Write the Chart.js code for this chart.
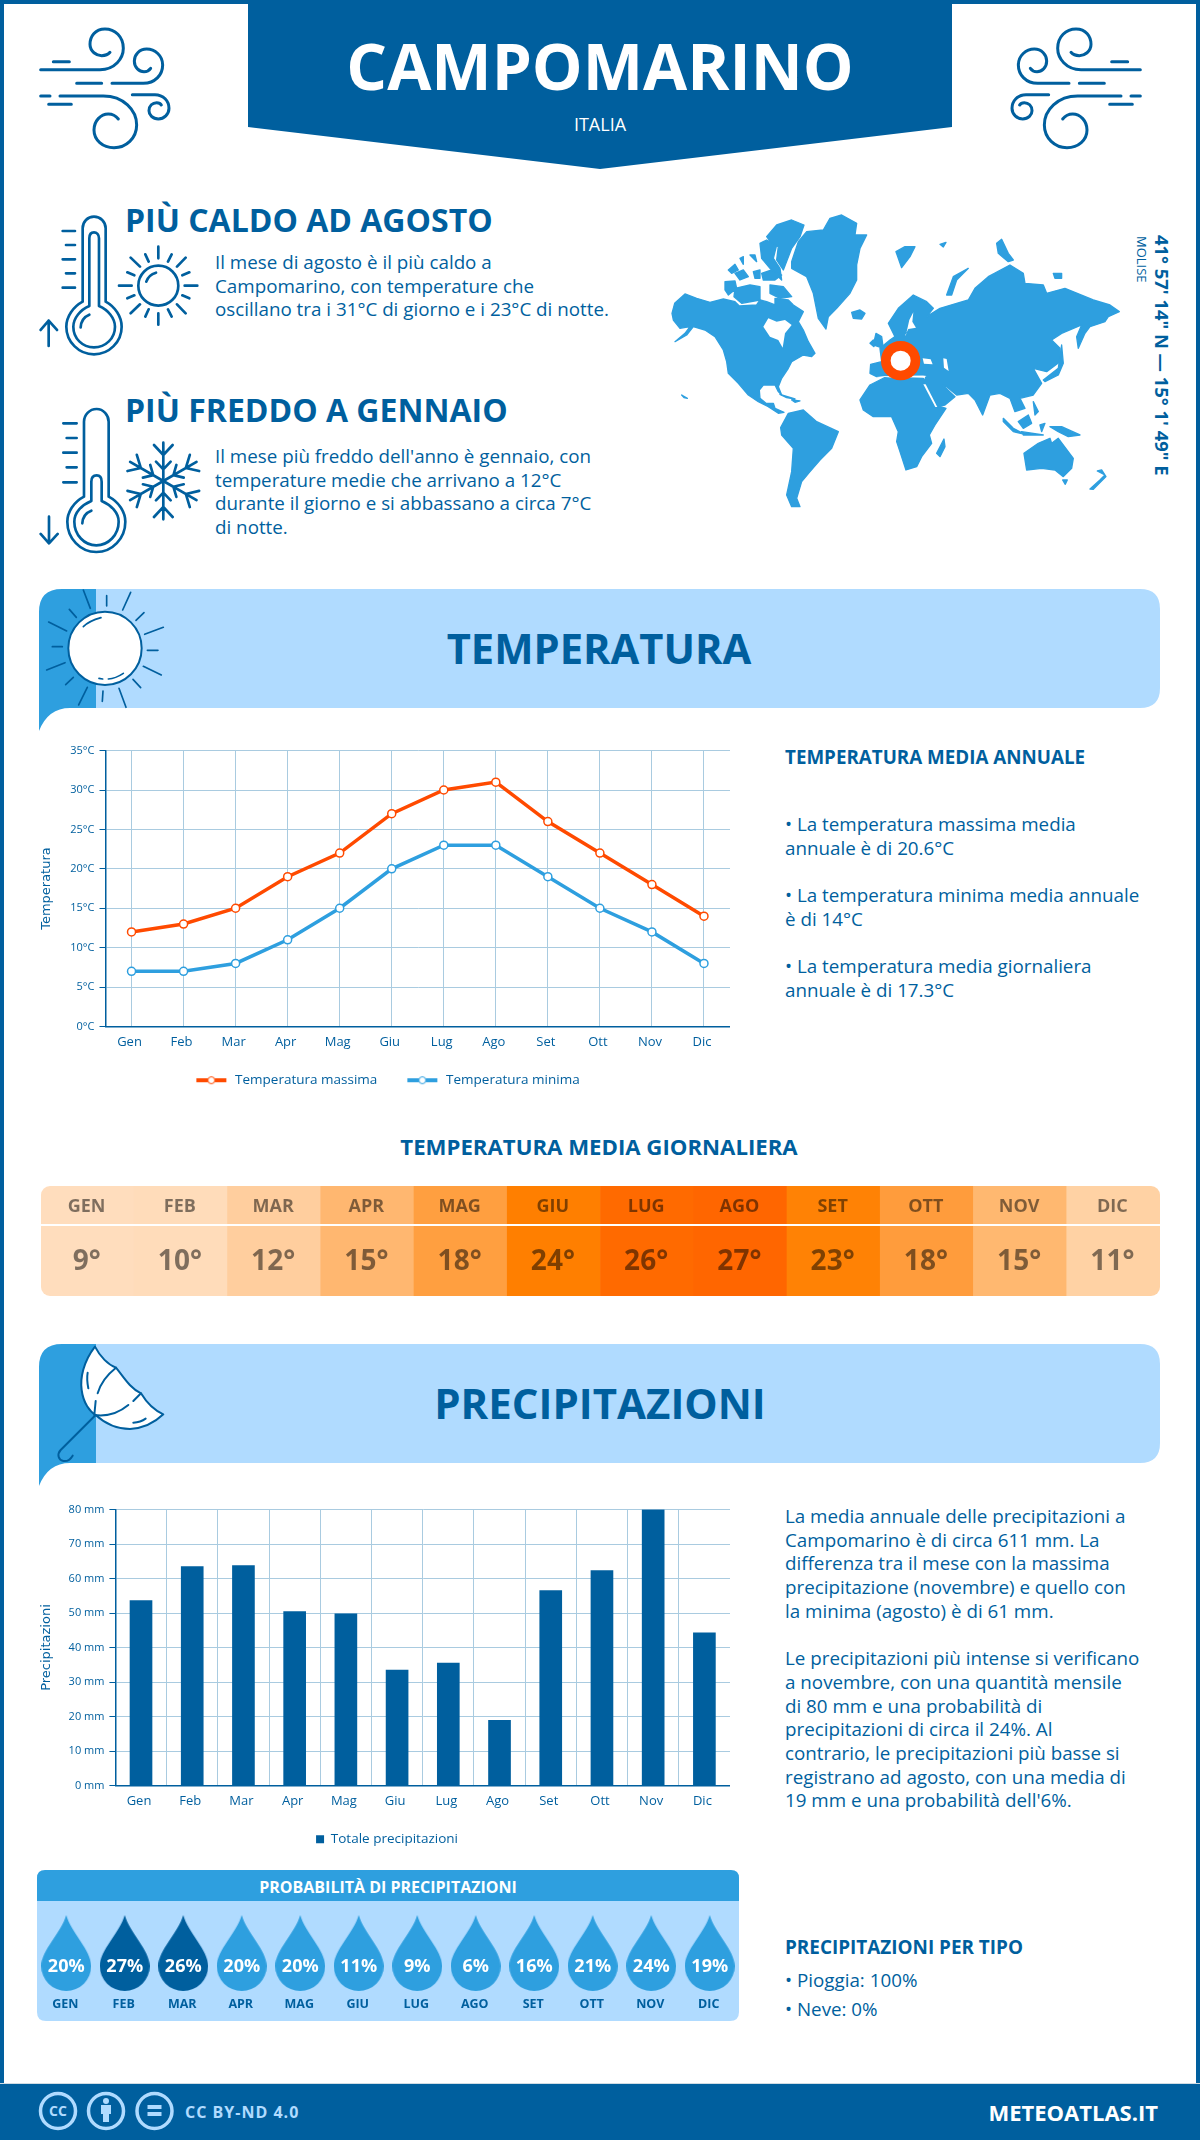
<!DOCTYPE html>
<html lang="it">
<head>
<meta charset="utf-8">
<title>Campomarino</title>
<script src="https://cdn.jsdelivr.net/npm/chart.js@4/dist/chart.umd.js"></script>
<style>
html, body { margin: 0; padding: 0; background: #fff; }
#pagina { position: relative; width: 1200px; height: 2140px; overflow: hidden; background: #fff; font-family: "Open Sans", sans-serif; color: #005f9e; }
#cornice { position: absolute; left: 0; top: 0; width: 1192px; height: 2136px; border: 4px solid #005f9e; border-bottom: 0; }
#disegni { position: absolute; left: 0; top: 0; }
.t { position: absolute; white-space: nowrap; }
.b { font-weight: 700; }
.c { left: 0; width: 1200px; text-align: center; }
.p { font-size: 18.8px; line-height: 23.7px; }
canvas { position: absolute; }
#footer { position: absolute; left: 0; top: 2083px; width: 1200px; height: 57px; background: #005f9e; border-top: 1px solid #cfdbe3; box-sizing: border-box; }
</style>
</head>
<body>
<div id="pagina">
<div id="cornice"></div>
<div id="footer"></div>

<svg id="disegni" width="1200" height="2140" xmlns="http://www.w3.org/2000/svg">
  <defs>
    <g id="vento" fill="none" stroke="#005f9e" stroke-width="9" stroke-linecap="round" transform="translate(20,15) scale(.3333)">
      <path d="M62,164 H240 C285,164 310,130 310,100 C310,65 285,42 255,42 C225,42 210,65 210,88 C210,110 230,122 245,122 C255,122 265,118 270,112"/>
      <path d="M100,140 H148 M170,205 H245 M62,243 H90 M86,268 H154"/>
      <path d="M276,205 H370 C405,205 428,180 428,150 C428,122 405,102 380,102 C358,102 343,120 343,138 C343,158 358,170 372,170 C380,170 388,166 392,160"/>
      <path d="M120,243 H250 C310,243 350,285 350,330 C350,370 318,398 282,398 C248,398 222,375 222,345 C222,318 242,297 265,297 C278,297 288,303 295,312"/>
      <path d="M337,239 H405 C430,239 447,258 447,280 C447,298 432,312 415,312 C398,312 387,300 387,287 C387,272 398,263 410,263 C417,263 422,266 424,270"/>
    </g>
    <g id="ramo">
      <path d="M430,843 V728 M402,735 L430,765 L458,735 M408,785 L430,808 L452,785"/>
    </g>
  </defs>

  <!-- testata -->
  <path d="M248,0 H952 V127 L600,169 L248,127 Z" fill="#005f9e"/>
  <use href="#vento"/>
  <use href="#vento" transform="matrix(-1,0,0,1,1181,0)"/>

  <!-- termometri e icone -->
  <g fill="none" stroke="#005f9e" stroke-width="8" stroke-linecap="round" stroke-linejoin="round" transform="translate(20,200) scale(.3333)">
    <path d="M188,305 V85 C188,65 203,50 222,50 C241,50 257,65 257,85 V305 C285,320 305,350 305,380 C305,425 268,463 222,463 C176,463 139,425 139,380 C139,350 160,320 188,305 Z"/>
    <path d="M208,318 V115 C208,103 214,97 222,97 C230,97 237,103 237,115 V318 C265,330 285,355 285,380 C285,415 257,442 222,442 C187,442 160,415 160,380 C160,355 180,330 208,318 Z"/>
    <path d="M182,382 C183,365 193,350 208,344 M128,93 H165 M138,135 H165 M128,178 H165 M138,220 H165 M128,263 H165 M86,438 V362 M62,390 L86,362 L111,390"/>
    <circle cx="415" cy="257" r="60"/>
    <path d="M379,245 C383,232 395,222 408,218 M415,140 V175 M415,340 V374 M297,257 H335 M494,257 H532 M332,173 L360,200 M497,173 L471,200 M332,340 L360,313 M497,340 L471,313 M376,163 L386,185 M455,163 L444,185 M322,217 L343,226 M508,217 L487,226 M322,295 L343,286 M508,295 L487,286 M376,350 L386,328 M455,350 L444,328"/>
    <path d="M192,890 V665 C192,645 208,627 230,627 C250,627 266,645 266,665 V890 C295,905 316,935 316,965 C316,1015 277,1056 229,1056 C181,1056 142,1015 142,965 C142,935 163,905 192,890 Z"/>
    <path d="M214,903 V845 C214,832 220,826 230,826 C240,826 245,832 245,845 V903 C273,915 296,938 296,965 C296,1005 265,1036 229,1036 C193,1036 163,1005 163,965 C163,938 185,915 214,903 Z"/>
    <path d="M187,970 C188,952 198,938 214,932 M130,670 H170 M140,714 H170 M130,758 H170 M140,802 H170 M130,847 H170 M87,950 V1030 M62,1002 L87,1030 L113,1002"/>
    <use href="#ramo"/>
    <use href="#ramo" transform="rotate(60 430 843)"/>
    <use href="#ramo" transform="rotate(120 430 843)"/>
    <use href="#ramo" transform="rotate(180 430 843)"/>
    <use href="#ramo" transform="rotate(240 430 843)"/>
    <use href="#ramo" transform="rotate(300 430 843)"/>
  </g>

  <!-- mappa -->
  <g transform="translate(660,205) scale(.3333)">
    <g fill="#2e9fdf" stroke="#2e9fdf" stroke-width="4" stroke-linejoin="round">
      <path d="M36,325 L44,295 L75,267 L110,280 L150,292 L190,282 L225,290 L238,303 L290,300 L300,285 L320,290 L345,300 L345,280 L385,285 L400,300 L430,320 L415,350 L430,375 L445,410 L465,445 L455,455 L430,450 L395,470 L385,490 L365,520 L355,545 L365,570 L355,560 L345,540 L310,540 L298,555 L300,580 L318,595 L340,595 L345,610 L372,622 L355,625 L325,605 L295,590 L265,570 L235,535 L205,505 L200,470 L190,435 L165,395 L135,375 L100,365 L80,390 L45,410 L75,385 L90,365 L60,370 L40,345 Z"/>
      <path d="M320,95 L350,60 L395,45 L432,60 L420,95 L395,130 L370,195 L350,165 L355,125 L335,115 Z"/>
      <path d="M300,115 L320,105 L350,120 L340,160 L360,190 L365,225 L330,190 L305,160 Z"/>
      <path d="M205,195 L225,178 L235,195 L215,205 Z M225,205 L250,195 L265,215 L240,225 Z M280,200 L300,195 L300,220 L285,220 Z M305,205 L335,195 L365,210 L345,225 L310,225 Z M195,230 L225,228 L230,250 L205,270 L195,255 Z M225,250 L270,240 L300,245 L300,285 L245,295 L222,275 Z M330,240 L370,245 L395,275 L360,280 L330,265 Z M240,160 L250,155 L250,178 Z M270,150 L285,150 L290,170 Z"/>
      <path d="M395,170 L415,110 L440,80 L490,75 L510,40 L545,30 L590,55 L585,90 L620,90 L600,130 L590,180 L590,225 L570,265 L530,310 L505,335 L498,372 L475,340 L460,265 L440,215 L395,190 Z"/>
      <path d="M575,322 L600,315 L615,325 L605,342 L580,340 Z"/>
      <path d="M362,668 L385,625 L430,615 L470,650 L535,680 L515,730 L480,765 L450,800 L425,830 L410,880 L420,905 L395,905 L380,870 L395,800 L400,730 L365,690 Z"/>
      <path d="M600,585 L630,540 L680,515 L790,520 L825,600 L858,610 L825,660 L808,690 L815,715 L785,755 L770,785 L738,795 L720,740 L710,710 L715,680 L695,635 L640,635 L610,615 Z"/>
      <path d="M830,745 L852,702 L855,725 L840,755 Z"/>
      <path d="M630,505 L632,478 L665,470 L660,430 L690,405 L705,395 L685,355 L715,310 L760,270 L800,290 L820,310 L800,335 L840,310 L890,295 L925,285 L945,250 L985,215 L1050,180 L1090,205 L1095,235 L1150,240 L1160,265 L1215,250 L1300,285 L1350,300 L1378,320 L1345,335 L1335,350 L1290,365 L1275,385 L1255,430 L1250,395 L1265,360 L1205,385 L1175,405 L1200,430 L1200,470 L1160,500 L1120,490 L1145,535 L1120,570 L1080,580 L1095,610 L1065,620 L1050,580 L1020,565 L990,570 L968,630 L945,585 L925,565 L890,570 L860,545 L848,540 L885,575 L855,600 L830,605 L790,535 L800,510 L765,510 L700,510 L650,515 Z"/>
      <path d="M640,420 L648,385 L665,395 L670,430 Z M630,415 L640,405 L642,425 Z"/>
      <path d="M860,270 L880,215 L925,190 L890,225 L875,270 Z"/>
      <path d="M708,140 L735,125 L765,125 L750,155 L725,188 Z M840,118 L858,112 L850,126 Z"/>
      <path d="M1180,205 L1205,205 L1205,220 L1185,220 Z M1010,115 L1025,103 L1045,145 L1060,165 L1045,170 L1015,145 Z"/>
      <path d="M1150,525 L1195,490 L1205,420 L1210,475 L1195,510 L1155,530 Z"/>
      <path d="M1075,650 L1105,630 L1115,655 L1090,670 Z M1030,640 L1060,670 L1095,688 L1060,680 L1030,650 Z M1120,590 L1135,620 L1125,630 Z M1170,665 L1205,665 L1260,690 L1225,695 L1195,680 Z M1140,660 L1155,655 L1145,680 Z M1085,680 L1150,690 L1090,690 Z"/>
      <path d="M1092,745 L1135,715 L1170,700 L1175,715 L1195,700 L1240,760 L1235,790 L1210,815 L1185,795 L1145,790 L1100,795 Z M1208,825 L1222,825 L1216,838 Z"/>
      <path d="M1290,852 L1320,825 L1335,810 L1312,798 L1325,795 L1338,815 L1300,853 Z"/>
      <path d="M360,568 L405,582 L380,578 Z M395,585 L420,588 L405,592 Z M65,570 L82,580 L72,578 Z"/>
    </g>
    <g fill="#fff">
      <path d="M310,365 L325,340 L350,350 L375,345 L395,360 L375,385 L368,428 L355,405 L330,395 Z"/>
      <path d="M738,390 L748,345 L760,322 L757,350 L768,368 L745,372 L735,392 Z"/>
      <path d="M788,460 L812,463 L818,478 L792,476 Z M850,460 L860,462 L866,498 L852,488 Z"/>
      <path d="M650,514 L790,512 L800,516 L700,518 Z"/>
      <path d="M790,538 L797,538 L832,606 L826,606 Z"/>
    </g>
    <circle cx="722" cy="467" r="44.5" fill="#fff" stroke="#ff4a00" stroke-width="29"/>
  </g>

  <!-- bande di sezione -->
  <path d="M96,589 H1140 Q1160,589 1160,609 V688 Q1160,708 1140,708 H96 Z" fill="#b0dbff"/>
  <path d="M39,731 V612 Q39,589 62,589 H96 V708 H70 Q48,708 39,731 Z" fill="#2e9fdf"/>
  <g fill="#fff" stroke="#005f9e" stroke-width="5" stroke-linecap="round" transform="translate(30,580) scale(.3333)">
    <path fill="none" d="M160,30 L181,85 M302,37 L278,90 M230,47 V78 M342,98 L318,121 M118,88 L139,112 M56,126 L110,153 M400,142 L344,163 M67,200 H97 M352,211 H384 M50,270 L105,248 M394,285 L340,259 M130,292 L107,314 M309,298 L332,323 M172,322 L146,375 M267,325 L288,382 M219,333 L217,364"/>
    <circle cx="225" cy="205" r="110" stroke-width="6"/>
    <path fill="none" d="M160,140 C175,125 195,118 213,113 M235,297 C250,296 265,290 280,280 M207,295 L218,297"/>
  </g>
  <path d="M96,1344 H1140 Q1160,1344 1160,1364 V1443 Q1160,1463 1140,1463 H96 Z" fill="#b0dbff"/>
  <path d="M39,1486 V1367 Q39,1344 62,1344 H96 V1463 H70 Q48,1463 39,1486 Z" fill="#2e9fdf"/>
  <g fill="none" stroke="#005f9e" stroke-width="6" stroke-linecap="round" stroke-linejoin="round" transform="translate(30,1335) scale(.3333)">
    <path fill="#fff" d="M195,35 C160,80 150,130 155,165 C160,205 180,230 197,240 C230,270 265,282 300,282 C340,280 375,262 400,238 C370,225 345,195 333,175 C300,160 280,125 258,98 C235,90 210,65 195,35 Z"/>
    <path d="M197,240 L92,345 C80,358 85,375 100,378 C112,380 122,372 128,362"/>
    <path d="M258,98 C230,120 210,150 203,175 M197,198 L193,240 M193,240 C230,245 265,235 295,210 M310,198 L333,175 M173,113 C170,130 172,145 175,160 M310,263 C325,262 337,258 347,251"/>
  </g>

  <!-- riquadro probabilita -->
  <path d="M37,1901 V1878 Q37,1870 45,1870 H731 Q739,1870 739,1878 V1901 Z" fill="#2e9fdf"/>
  <path d="M37,1901 H739 V2012 Q739,2021 730,2021 H46 Q37,2021 37,2012 Z" fill="#b0dbff"/>

  <!-- licenza -->
  <g fill="none" stroke="#b0dbff" stroke-width="3.5">
    <circle cx="58" cy="2111" r="17.5"/>
    <circle cx="106" cy="2111" r="17.5"/>
    <circle cx="154.5" cy="2111" r="17.5"/>
  </g>
  <g fill="#b0dbff">
    <text x="58" y="2116" text-anchor="middle" font-family="Open Sans" font-weight="700" font-size="14">CC</text>
    <circle cx="106" cy="2101" r="3"/>
    <rect x="101" y="2105" width="10" height="9"/>
    <rect x="103" y="2114" width="6" height="8"/>
    <rect x="147.5" y="2105" width="14" height="4"/>
    <rect x="147.5" y="2112" width="14" height="4"/>
  </g>
</svg>

<div class="t b c" style="top:22px;font-size:64px;line-height:88px;color:#fff">CAMPOMARINO</div>
<div class="t c" style="top:112px;font-size:18px;line-height:24px;color:#fff">ITALIA</div>

<div class="t b" style="left:125px;top:198px;font-size:32px;line-height:44px">PIÙ CALDO AD AGOSTO</div>
<div class="t p" style="left:215px;top:251px">Il mese di agosto è il più caldo a<br>Campomarino, con temperature che<br>oscillano tra i 31°C di giorno e i 23°C di notte.</div>
<div class="t b" style="left:125px;top:388px;font-size:32px;line-height:44px">PIÙ FREDDO A GENNAIO</div>
<div class="t p" style="left:215px;top:445px">Il mese più freddo dell'anno è gennaio, con<br>temperature medie che arrivano a 12°C<br>durante il giorno e si abbassano a circa 7°C<br>di notte.</div>

<div class="t b" style="left:1152px;top:235px;font-size:18.4px;line-height:20px;writing-mode:vertical-rl">41° 57' 14" N — 15° 1' 49" E</div>
<div class="t" style="left:1134px;top:236px;font-size:13px;line-height:16px;writing-mode:vertical-rl">MOLISE</div>

<div class="t b c" style="top:620px;font-size:41.7px;line-height:56px;left:-1px">TEMPERATURA</div>
<div class="t b" style="left:785px;top:745px;font-size:18.8px;line-height:24px">TEMPERATURA MEDIA ANNUALE</div>
<div class="t p" style="left:785px;top:813px">• La temperatura massima media<br>annuale è di 20.6°C<br><span style="display:block;height:23.7px"></span>• La temperatura minima media annuale<br>è di 14°C<br><span style="display:block;height:23.7px"></span>• La temperatura media giornaliera<br>annuale è di 17.3°C</div>

<div class="t b c" style="top:1133px;font-size:22.2px;line-height:28px;left:-1px">TEMPERATURA MEDIA GIORNALIERA</div>

<div class="t b c" style="top:1375px;font-size:42px;line-height:56px">PRECIPITAZIONI</div>
<div class="t p" style="left:785px;top:1505px">La media annuale delle precipitazioni a<br>Campomarino è di circa 611 mm. La<br>differenza tra il mese con la massima<br>precipitazione (novembre) e quello con<br>la minima (agosto) è di 61 mm.<br><span style="display:block;height:23.7px"></span>Le precipitazioni più intense si verificano<br>a novembre, con una quantità mensile<br>di 80 mm e una probabilità di<br>precipitazioni di circa il 24%. Al<br>contrario, le precipitazioni più basse si<br>registrano ad agosto, con una media di<br>19 mm e una probabilità dell'6%.</div>

<div class="t b" style="left:37px;width:702px;text-align:center;top:1875px;font-size:16px;line-height:24px;color:#fff">PROBABILITÀ DI PRECIPITAZIONI</div>

<div class="t b" style="left:785px;top:1935px;font-size:18.9px;line-height:24px">PRECIPITAZIONI PER TIPO</div>
<div class="t" style="left:785px;top:1966px;font-size:18.8px;line-height:29px">• Pioggia: 100%<br>• Neve: 0%</div>

<div class="t b" style="left:185px;top:2100px;font-size:16px;line-height:24px;letter-spacing:1px;color:#b0dbff">CC BY-ND 4.0</div>
<div class="t b" style="right:42px;top:2096px;font-size:22px;line-height:32px;color:#fff">METEOATLAS.IT</div>

<canvas id="chartTemperatura" style="left:30px;top:739px" width="700" height="358"></canvas>
<canvas id="chartGiornaliera" style="left:41px;top:1186px;border-radius:9px" width="1119" height="110"></canvas>
<canvas id="chartPrecipitazioni" style="left:30px;top:1498px" width="700" height="358"></canvas>
<canvas id="chartProbabilita" style="left:37px;top:1901px" width="702" height="120"></canvas>
</div>

<script>
// dati
const mesi = ['Gen', 'Feb', 'Mar', 'Apr', 'Mag', 'Giu', 'Lug', 'Ago', 'Set', 'Ott', 'Nov', 'Dic'];
const mesiMaiuscoli = ['GEN', 'FEB', 'MAR', 'APR', 'MAG', 'GIU', 'LUG', 'AGO', 'SET', 'OTT', 'NOV', 'DIC'];
const temperaturaMassima = [12, 13, 15, 19, 22, 27, 30, 31, 26, 22, 18, 14];
const temperaturaMinima = [7, 7, 8, 11, 15, 20, 23, 23, 19, 15, 12, 8];
const temperaturaMedia = [9, 10, 12, 15, 18, 24, 26, 27, 23, 18, 15, 11];
const precipitazioni = [53.6, 63.5, 63.8, 50.4, 49.8, 33.5, 35.5, 18.9, 56.5, 62.3, 80, 44.3];
const probabilita = [20, 27, 26, 20, 20, 11, 9, 6, 16, 21, 24, 19];
const tickTemperatura = ['0°C', '5°C', '10°C', '15°C', '20°C', '25°C', '30°C', '35°C'];
const tickPrecipitazioni = ['0 mm', '10 mm', '20 mm', '30 mm', '40 mm', '50 mm', '60 mm', '70 mm', '80 mm'];

// colori
const BLU = '#005f9e';
const AZZURRO = '#2e9fdf';
const ARANCIO = '#ff4a00';
const GRIGLIA = '#a9cbe0';
const coloriMedia = ['#ffddbd', '#ffdcba', '#ffce9e', '#ffb770', '#ff9f40', '#ff7f00', '#ff6a00', '#ff6600', '#ff8205', '#ff9c3c', '#ffb870', '#ffd2a4'];

Chart.defaults.font.family = '"Open Sans", sans-serif';
Chart.defaults.color = BLU;
Chart.defaults.animation = false;
Chart.defaults.responsive = false;
Chart.defaults.devicePixelRatio = 1;
Chart.defaults.layout.autoPadding = false;

// icona della legenda: linea con il punto al centro, con margine a sinistra per staccare le voci
function iconaLegenda(colore) {
    const c = document.createElement('canvas');
    c.width = 41;
    c.height = 10;
    const g = c.getContext('2d');
    g.fillStyle = colore;
    g.fillRect(9, 3, 30, 4);
    g.beginPath();
    g.arc(24, 5, 3.5, 0, Math.PI * 2);
    g.fillStyle = '#fff';
    g.fill();
    g.lineWidth = 1;
    g.strokeStyle = colore;
    g.stroke();
    return c;
}

// goccia per la probabilita
function iconaGoccia(colore) {
    const c = document.createElement('canvas');
    c.width = 50;
    c.height = 76;
    const g = c.getContext('2d');
    g.fillStyle = colore;
    g.fill(new Path2D('M25 0 C30 18 50 35 50 51 A25 25 0 1 1 0 51 C0 35 20 18 25 0 Z'));
    return c;
}

// la legenda va centrata un po' piu a destra del canvas
function spostaLegenda(dx) {
    return {
        id: 'spostaLegenda',
        afterLayout(chart) {
            chart.legend.left += dx;
            chart.legend.right += dx;
        }
    };
}

function asseY(titolo, tacche, passo, massimo, larghezza) {
    return {
        min: 0,
        max: massimo,
        afterFit(scale) { scale.width = larghezza; },
        border: { color: BLU, width: 1.5 },
        grid: { color: GRIGLIA, tickColor: BLU, tickLength: 6, lineWidth: 1 },
        title: { display: true, text: titolo, color: BLU, padding: { top: 9, bottom: 0 }, font: { family: '"DejaVu Sans"', size: 13 } },
        ticks: { stepSize: passo, padding: 5, color: BLU, font: { size: 11 }, callback: (v, i) => tacche[i] }
    };
}

function asseX(griglia) {
    return {
        offset: true,
        afterFit(scale) { scale.height = 26; },
        border: { color: BLU, width: 1.5 },
        grid: griglia,
        ticks: { padding: 8, color: BLU, labelOffset: -2, autoSkip: false, maxRotation: 0, font: { size: 13 } }
    };
}

new Chart(document.getElementById('chartTemperatura'), {
    type: 'line',
    plugins: [spostaLegenda(3.5)],
    data: {
        labels: mesi,
        datasets: [
            { label: 'Temperatura massima', data: temperaturaMassima, borderColor: ARANCIO, backgroundColor: ARANCIO, borderWidth: 3.5, tension: 0, pointRadius: 4, pointBorderWidth: 1.5, pointBackgroundColor: '#fff', pointBorderColor: ARANCIO },
            { label: 'Temperatura minima', data: temperaturaMinima, borderColor: AZZURRO, backgroundColor: AZZURRO, borderWidth: 3.5, tension: 0, pointRadius: 4, pointBorderWidth: 1.5, pointBackgroundColor: '#fff', pointBorderColor: AZZURRO }
        ]
    },
    options: {
        layout: { padding: { top: 10 } },
        scales: {
            x: asseX({ color: GRIGLIA, drawTicks: false, lineWidth: 1 }),
            y: asseY('Temperatura', tickTemperatura, 5, 35, 75.5)
        },
        plugins: {
            tooltip: { enabled: false },
            legend: {
                position: 'bottom',
                labels: {
                    usePointStyle: true,
                    pointStyleWidth: 41,
                    padding: 21,
                    color: BLU,
                    font: { size: 13.5 },
                    generateLabels(chart) {
                        const voci = Chart.defaults.plugins.legend.labels.generateLabels(chart);
                        return voci.map((v, i) => ({ ...v, pointStyle: iconaLegenda(i === 0 ? ARANCIO : AZZURRO) }));
                    }
                }
            }
        }
    }
});

// tabella delle medie giornaliere: le barre superano il massimo e riempiono la cella
const testiGiornaliera = {
    id: 'testiGiornaliera',
    afterDatasetsDraw(chart) {
        const { ctx, chartArea, scales } = chart;
        ctx.save();
        ctx.fillStyle = '#fff';
        ctx.fillRect(chartArea.left, 38, chartArea.width, 2);
        ctx.textAlign = 'center';
        ctx.textBaseline = 'middle';
        ctx.fillStyle = 'rgba(0,0,0,0.5)';
        mesiMaiuscoli.forEach((m, i) => {
            const x = scales.x.getPixelForValue(i) - 1;
            ctx.font = '700 18px "Open Sans"';
            ctx.fillText(m, x, 21);
            ctx.font = '700 28px "Open Sans"';
            ctx.fillText(temperaturaMedia[i] + '°', x, 76);
        });
        ctx.restore();
    }
};

new Chart(document.getElementById('chartGiornaliera'), {
    type: 'bar',
    plugins: [testiGiornaliera],
    data: {
        labels: mesiMaiuscoli,
        datasets: [{ data: temperaturaMedia, backgroundColor: coloriMedia, borderWidth: 0, barPercentage: 1, categoryPercentage: 1 }]
    },
    options: {
        scales: {
            x: { display: false, grid: { display: false } },
            y: { display: false, min: 0, max: 1 }
        },
        plugins: { legend: { display: false }, tooltip: { enabled: false } }
    }
});

new Chart(document.getElementById('chartPrecipitazioni'), {
    type: 'bar',
    plugins: [spostaLegenda(7)],
    data: {
        labels: mesi,
        datasets: [{ label: 'Totale precipitazioni', data: precipitazioni, backgroundColor: BLU, barThickness: 22 }]
    },
    options: {
        layout: { padding: { top: 10 } },
        scales: {
            x: asseX({ color: ctx => ctx.index === mesi.length ? 'transparent' : GRIGLIA, drawTicks: false, lineWidth: 1 }),
            y: asseY('Precipitazioni', tickPrecipitazioni, 10, 80, 85.4)
        },
        plugins: {
            tooltip: { enabled: false },
            legend: {
                position: 'bottom',
                labels: { boxWidth: 8, boxHeight: 8, padding: 21, color: BLU, font: { size: 13.5 } }
            }
        }
    }
});

// gocce: l'asse y e molto largo, cosi restano tutte alla stessa altezza
const gocciaChiara = iconaGoccia(AZZURRO);
const gocciaScura = iconaGoccia(BLU);

const testiGocce = {
    id: 'testiGocce',
    afterDatasetsDraw(chart) {
        const { ctx, scales } = chart;
        ctx.save();
        ctx.textAlign = 'center';
        ctx.textBaseline = 'middle';
        mesiMaiuscoli.forEach((m, i) => {
            const x = scales.x.getPixelForValue(i);
            ctx.font = '700 18px "Open Sans"';
            ctx.fillStyle = '#fff';
            ctx.fillText(probabilita[i] + '%', x, 66);
            ctx.font = '700 12.5px "Open Sans"';
            ctx.fillStyle = BLU;
            ctx.fillText(m, x - 1, 103);
        });
        ctx.restore();
    }
};

new Chart(document.getElementById('chartProbabilita'), {
    type: 'line',
    plugins: [testiGocce],
    data: {
        labels: mesiMaiuscoli,
        datasets: [{
            data: probabilita,
            showLine: false,
            pointRadius: 5,
            pointStyle: probabilita.map(p => p >= 25 ? gocciaScura : gocciaChiara)
        }]
    },
    options: {
        layout: { padding: { bottom: 16 } },
        scales: {
            x: { display: false, offset: true, grid: { display: false } },
            y: { display: false, min: -100000, max: 100000 }
        },
        plugins: { legend: { display: false }, tooltip: { enabled: false } }
    }
});
</script>
</body>
</html>
